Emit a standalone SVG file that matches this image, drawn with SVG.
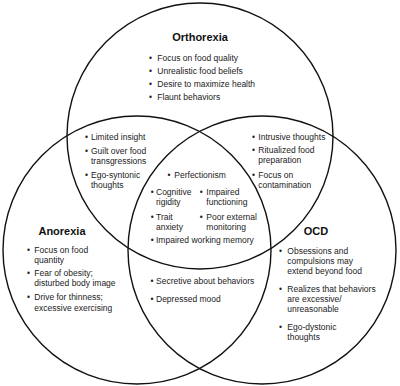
<svg xmlns="http://www.w3.org/2000/svg" width="400" height="386" viewBox="0 0 400 386">
<style>
.c{fill:none;stroke:#111;stroke-width:1.4}
.t{font-family:"Liberation Sans",Arial,sans-serif;font-size:8.5px;fill:#222}
.h{font-family:"Liberation Sans",Arial,sans-serif;font-size:11px;font-weight:bold;fill:#111;text-anchor:middle}
.b{font-family:"Liberation Sans",Arial,sans-serif;font-size:8.5px;fill:#222}
</style>
<rect width="400" height="386" fill="#fff"/>
<g id="orthorexia">
<circle class="c" cx="200" cy="136" r="133"/>
<text class="h" x="200" y="40.5">Orthorexia</text>
<text class="b" x="149" y="60.5">•</text><text class="t" x="157.3" y="60.5">Focus on food quality</text>
<text class="b" x="149" y="73.5">•</text><text class="t" x="157.3" y="73.5">Unrealistic food beliefs</text>
<text class="b" x="149" y="86.5">•</text><text class="t" x="157.3" y="86.5">Desire to maximize health</text>
<text class="b" x="149" y="99.5">•</text><text class="t" x="157.3" y="99.5">Flaunt behaviors</text>
</g>
<g id="anorexia">
<circle class="c" cx="137" cy="250" r="134"/>
<text class="h" x="62" y="235">Anorexia</text>
<text class="b" x="27" y="252.5">•</text><text class="t" x="34.3" y="252.5">Focus on food</text>
<text class="t" x="34.3" y="262.5">quantity</text>
<text class="b" x="27" y="275.5">•</text><text class="t" x="34.3" y="275.5">Fear of obesity;</text>
<text class="t" x="34.3" y="285.5">disturbed body image</text>
<text class="b" x="27" y="300">•</text><text class="t" x="34.3" y="300">Drive for thinness;</text>
<text class="t" x="34.3" y="310.5">excessive exercising</text>
</g>
<g id="ocd">
<circle class="c" cx="262" cy="250" r="134"/>
<text class="h" x="316" y="235">OCD</text>
<text class="b" x="279" y="253.5">•</text><text class="t" x="287.3" y="253.5">Obsessions and</text>
<text class="t" x="287.3" y="263.5">compulsions may</text>
<text class="t" x="287.3" y="273.5">extend beyond food</text>
<text class="b" x="279" y="291.5">•</text><text class="t" x="287.3" y="291.5">Realizes that behaviors</text>
<text class="t" x="287.3" y="301.5">are excessive/</text>
<text class="t" x="287.3" y="311.5">unreasonable</text>
<text class="b" x="279" y="330">•</text><text class="t" x="287.3" y="330">Ego-dystonic</text>
<text class="t" x="287.3" y="340">thoughts</text>
</g>
<g id="orthorexia-anorexia">
<text class="b" x="85" y="140">•</text><text class="t" x="91" y="140">Limited insight</text>
<text class="b" x="85" y="153.5">•</text><text class="t" x="91" y="153.5">Guilt over food</text>
<text class="t" x="91" y="163.5">transgressions</text>
<text class="b" x="85" y="178.3">•</text><text class="t" x="91" y="178.3">Ego-syntonic</text>
<text class="t" x="91" y="188.3">thoughts</text>
</g>
<g id="orthorexia-ocd">
<text class="b" x="252" y="140">•</text><text class="t" x="258.3" y="140">Intrusive thoughts</text>
<text class="b" x="252" y="152.7">•</text><text class="t" x="258.3" y="152.7">Ritualized food</text>
<text class="t" x="258.3" y="162.7">preparation</text>
<text class="b" x="252" y="177.7">•</text><text class="t" x="258.3" y="177.7">Focus on</text>
<text class="t" x="258.3" y="187.7">contamination</text>
</g>
<g id="all-three">
<text class="b" x="167.5" y="178.3">•</text><text class="t" x="174.3" y="178.3">Perfectionism</text>
<text class="b" x="150.8" y="195">•</text><text class="t" x="156" y="195">Cognitive</text>
<text class="t" x="156" y="204.5">rigidity</text>
<text class="b" x="199.8" y="195">•</text><text class="t" x="206.3" y="195">Impaired</text>
<text class="t" x="206.3" y="204.5">functioning</text>
<text class="b" x="150.8" y="220">•</text><text class="t" x="156" y="220">Trait</text>
<text class="t" x="156" y="229.5">anxiety</text>
<text class="b" x="199.8" y="220">•</text><text class="t" x="206.3" y="220">Poor external</text>
<text class="t" x="206.3" y="229.5">monitoring</text>
<text class="b" x="150.8" y="243.3">•</text><text class="t" x="156" y="243.3">Impaired working memory</text>
</g>
<g id="anorexia-ocd">
<text class="b" x="150.5" y="284">•</text><text class="t" x="156" y="284">Secretive about behaviors</text>
<text class="b" x="150.5" y="301.7">•</text><text class="t" x="156" y="301.7">Depressed mood</text>
</g>
</svg>
